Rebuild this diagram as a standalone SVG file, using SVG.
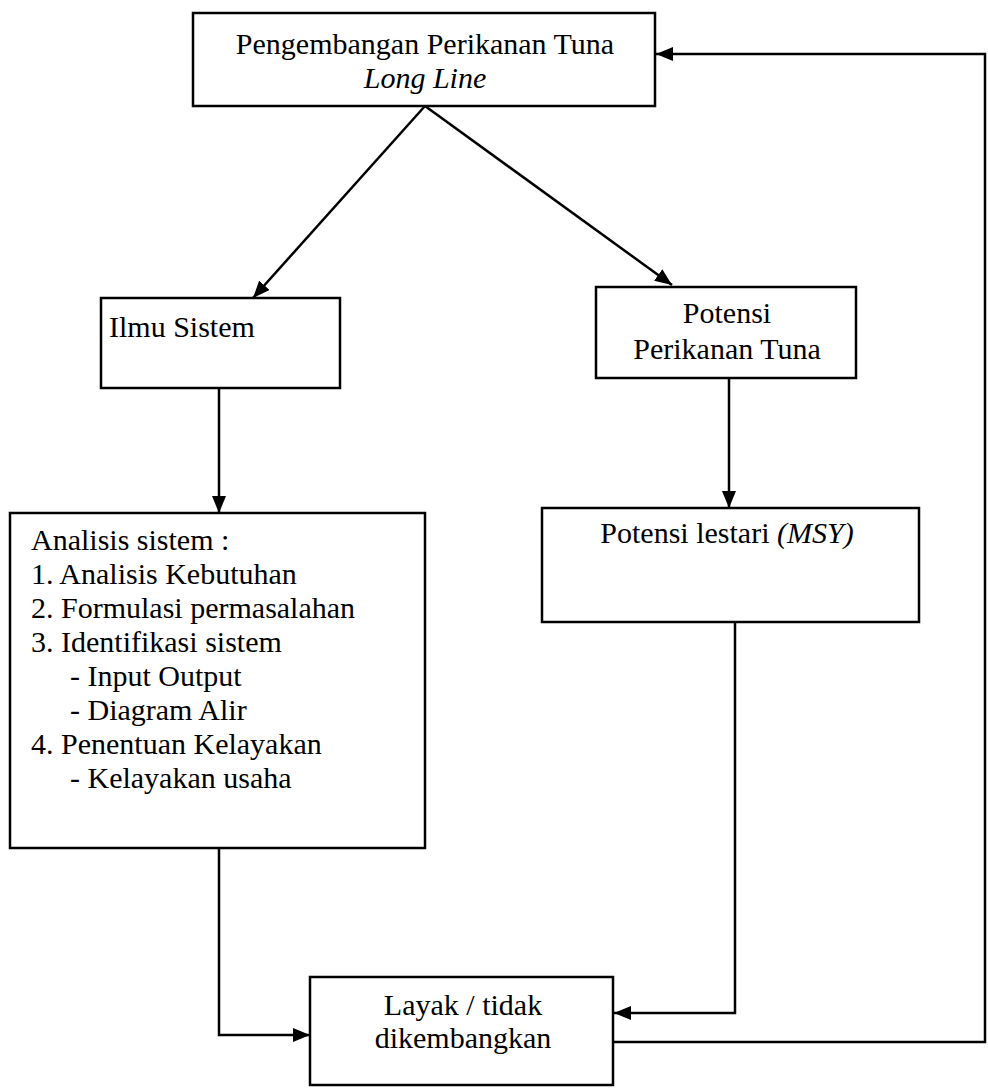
<svg xmlns="http://www.w3.org/2000/svg" width="988" height="1088" viewBox="0 0 988 1088">
<defs>
<marker id="ah" markerUnits="userSpaceOnUse" markerWidth="18" markerHeight="14" refX="17" refY="7" orient="auto">
<path d="M0,0 L17,7 L0,14 Z" fill="#000"/>
</marker>
<style>
.box{fill:#fff;stroke:#000;stroke-width:2.5}
.t{font-family:"Liberation Serif","Times New Roman",serif;font-size:30px;fill:#000}
.c{text-anchor:middle}
.i{font-style:italic}
.ln{fill:none;stroke:#000;stroke-width:2.5}
</style>
</defs>
<rect width="988" height="1088" fill="#fff"/>
<g id="connectors">
<path class="ln" d="M425 106 L253 298" marker-end="url(#ah)"/>
<path class="ln" d="M425 106 L672 285" marker-end="url(#ah)"/>
<path class="ln" d="M219 388 V513" marker-end="url(#ah)"/>
<path class="ln" d="M729 378 V508" marker-end="url(#ah)"/>
<path class="ln" d="M219 848 V1035 H310" marker-end="url(#ah)"/>
<path class="ln" d="M735 622 V1013 H614" marker-end="url(#ah)"/>
<path class="ln" d="M614 1042 H985 V54 H656" marker-end="url(#ah)"/>
</g>
<g id="node-pengembangan">
<rect class="box" x="193" y="13" width="462" height="93"/>
<text class="t c" x="425" y="54">Pengembangan Perikanan Tuna</text>
<text class="t c i" x="425" y="88">Long Line</text>
</g>
<g id="node-ilmu">
<rect class="box" x="101" y="298" width="239" height="90"/>
<text class="t" x="109" y="337">Ilmu Sistem</text>
</g>
<g id="node-potensi">
<rect class="box" x="596" y="287" width="260" height="91"/>
<text class="t c" x="727" y="323">Potensi</text>
<text class="t c" x="727" y="359">Perikanan Tuna</text>
</g>
<g id="node-analisis">
<rect class="box" x="10" y="513" width="415" height="335"/>
<text class="t" x="31" y="550">Analisis sistem :</text>
<text class="t" x="31" y="584">1. Analisis Kebutuhan</text>
<text class="t" x="31" y="618">2. Formulasi permasalahan</text>
<text class="t" x="31" y="652">3. Identifikasi sistem</text>
<text class="t" x="70" y="686">- Input Output</text>
<text class="t" x="70" y="720">- Diagram Alir</text>
<text class="t" x="31" y="754">4. Penentuan Kelayakan</text>
<text class="t" x="70" y="788">- Kelayakan usaha</text>
</g>
<g id="node-msy">
<rect class="box" x="542" y="508" width="377" height="114"/>
<text class="t c" x="727" y="543">Potensi lestari <tspan class="i">(MSY)</tspan></text>
</g>
<g id="node-layak">
<rect class="box" x="310" y="977" width="303" height="108"/>
<text class="t c" x="463" y="1015">Layak / tidak</text>
<text class="t c" x="463" y="1048">dikembangkan</text>
</g>
</svg>
